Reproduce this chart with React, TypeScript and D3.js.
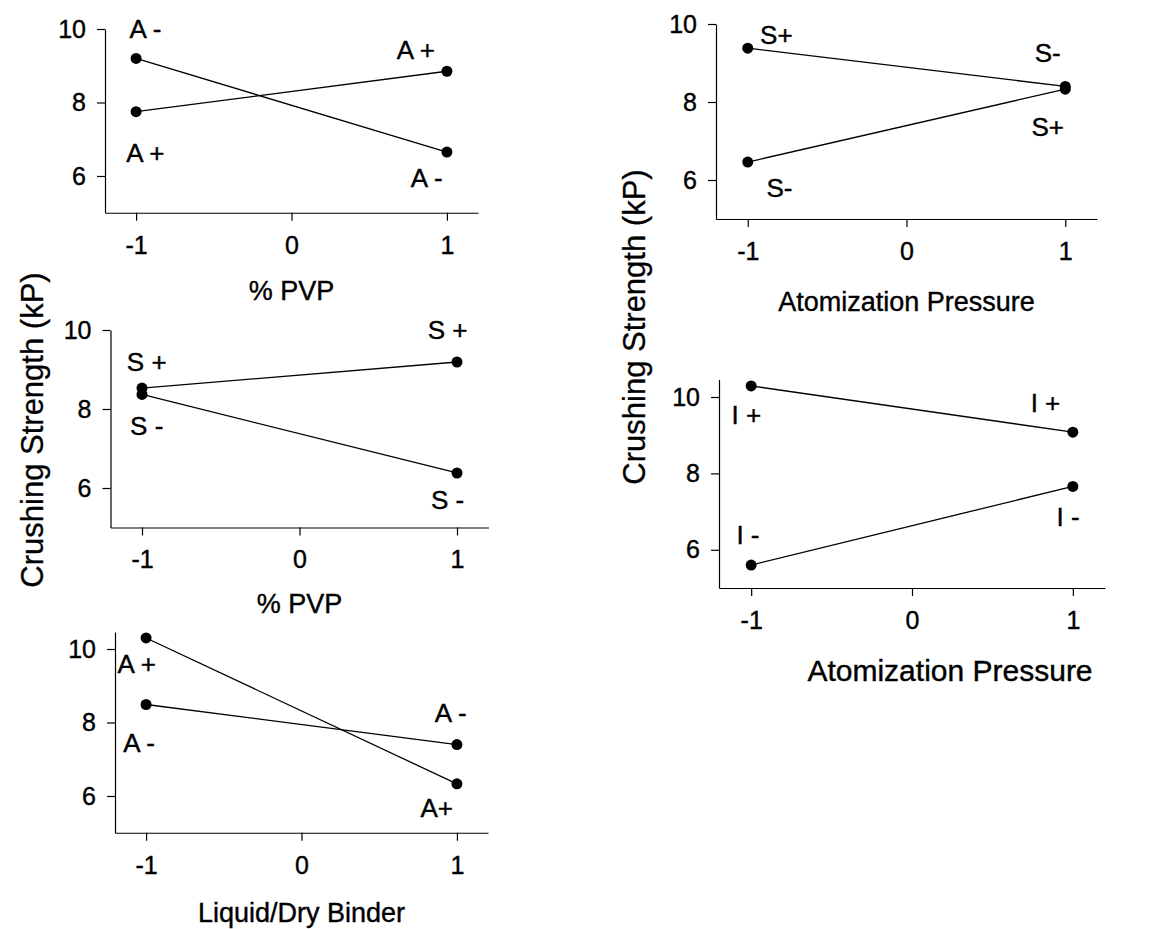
import React, { useEffect, useRef } from "react";
import * as d3 from "d3";

const width = 1166;
const height = 929;
const font = "'Liberation Sans', Arial, Helvetica, sans-serif";

const levels = [-1, 1];
const xTicks = [-1, 0, 1];
const yTicks = [6, 8, 10];

// % PVP, by A level
const pvpAMinus = [9.2, 6.65];
const pvpAPlus = [7.75, 8.85];
const pvpALabels: [string, number, number][] = [
  ["A -", -0.94, 10.0],
  ["A +", -0.94, 6.63],
  ["A +", 0.8, 9.43],
  ["A -", 0.87, 5.95],
];

// % PVP, by S level
const pvpSPlus = [8.53, 9.19];
const pvpSMinus = [8.37, 6.38];
const pvpSLabels: [string, number, number][] = [
  ["S +", -0.97, 9.19],
  ["S -", -0.97, 7.57],
  ["S +", 0.94, 10.0],
  ["S -", 0.94, 5.7],
];

// Liquid/Dry Binder, by A level
const binderAPlus = [10.3, 6.33];
const binderAMinus = [8.49, 7.4];
const binderLabels: [string, number, number][] = [
  ["A +", -1.06, 9.59],
  ["A -", -1.045, 7.43],
  ["A -", 0.96, 8.27],
  ["A+", 0.87, 5.67],
];

// Atomization Pressure, by S level
const atomSPlus = [9.38, 8.4];
const atomSMinus = [6.46, 8.33];
const atomSLabels: [string, number, number][] = [
  ["S+", -0.82, 9.72],
  ["S-", 0.89, 9.26],
  ["S+", 0.89, 7.36],
  ["S-", -0.8, 5.79],
];

// Atomization Pressure, by I level
const atomIPlus = [10.29, 9.08];
const atomIMinus = [5.6, 7.66];
const atomILabels: [string, number, number][] = [
  ["I +", -1.03, 9.53],
  ["I +", 0.83, 9.84],
  ["I -", -1.02, 6.39],
  ["I -", 0.97, 6.85],
];

const panels = [
  { xRange: [105, 478], yRange: [212.75, 29], yMax: 10, title: "% PVP", titleDx: 0, titleDy: 78, titleSize: 27, series: [pvpAMinus, pvpAPlus], labels: pvpALabels },
  { xRange: [110.5, 488.5], yRange: [527.5, 330], yMax: 10, title: "% PVP", titleDx: 0, titleDy: 76, titleSize: 27, series: [pvpSPlus, pvpSMinus], labels: pvpSLabels },
  { xRange: [115, 488], yRange: [832.75, 649], yMax: 10.46, title: "Liquid/Dry Binder", titleDx: 0, titleDy: 80, titleSize: 27, series: [binderAPlus, binderAMinus], labels: binderLabels },
  { xRange: [716, 1097], yRange: [219, 24], yMax: 10, title: "Atomization Pressure", titleDx: 0, titleDy: 83, titleSize: 27, series: [atomSPlus, atomSMinus], labels: atomSLabels },
  { xRange: [719, 1105], yRange: [588, 397], yMax: 10.46, title: "Atomization Pressure", titleDx: 38, titleDy: 82, titleSize: 30, series: [atomIPlus, atomIMinus], labels: atomILabels },
];

export default function App() {
  const svgRef = useRef<SVGSVGElement>(null);

  useEffect(() => {
    const svg = d3.select(svgRef.current);
    svg.selectAll("*").remove();

    panels.forEach((p) => {
      const x = d3.scaleLinear().domain([-1.2, 1.2]).range(p.xRange);
      // y scale set by the 5..10 range, axis line runs a bit higher on two panels
      const y = d3.scaleLinear().domain([5, 10]).range(p.yRange);
      const yAxisScale = d3.scaleLinear().domain([5, p.yMax]).range([p.yRange[0], y(p.yMax)]);
      const g = svg.append("g");

      const xAxis = g
        .append("g")
        .attr("transform", `translate(0, ${y(5)})`)
        .call(d3.axisBottom(x).tickValues(xTicks).tickFormat((d) => String(d)).tickSize(8).tickSizeOuter(0).tickPadding(15));
      const yAxis = g
        .append("g")
        .attr("transform", `translate(${x(-1.2)}, 0)`)
        .call(d3.axisLeft(yAxisScale).tickValues(yTicks).tickFormat((d) => String(d)).tickSize(8).tickSizeOuter(0).tickPadding(11));

      [xAxis, yAxis].forEach((a) => {
        a.selectAll("path, line").attr("stroke", "#000").attr("stroke-width", 1.2);
        a.selectAll("text")
          .attr("font-family", font)
          .attr("font-size", 25)
          .attr("fill", "#000")
          .attr("stroke", "#000")
          .attr("stroke-width", 0.4);
      });

      g.append("text")
        .attr("x", x(0) + p.titleDx)
        .attr("y", y(5) + p.titleDy)
        .attr("text-anchor", "middle")
        .attr("dominant-baseline", "central")
        .attr("font-family", font)
        .attr("font-size", p.titleSize)
        .attr("stroke", "#000")
        .attr("stroke-width", 0.4)
        .text(p.title);

      const line = d3
        .line<number>()
        .x((d, i) => x(levels[i]))
        .y((d) => y(d));

      p.series.forEach((s) => {
        g.append("path").attr("d", line(s)).attr("fill", "none").attr("stroke", "#000").attr("stroke-width", 1.3);
        g.selectAll(null)
          .data(s)
          .enter()
          .append("circle")
          .attr("cx", (d, i) => x(levels[i]))
          .attr("cy", (d) => y(d))
          .attr("r", 5.5)
          .attr("fill", "#000");
      });

      g.selectAll(null)
        .data(p.labels)
        .enter()
        .append("text")
        .attr("x", (d) => x(d[1]))
        .attr("y", (d) => y(d[2]))
        .attr("text-anchor", "middle")
        .attr("dominant-baseline", "central")
        .attr("font-family", font)
        .attr("font-size", 26)
        .attr("stroke", "#000")
        .attr("stroke-width", 0.4)
        .text((d) => d[0]);
    });

    // shared y titles
    [
      [32, 430],
      [634, 327],
    ].forEach(([cx, cy]) => {
      svg
        .append("text")
        .attr("transform", `translate(${cx}, ${cy}) rotate(-90)`)
        .attr("text-anchor", "middle")
        .attr("dominant-baseline", "central")
        .attr("font-family", font)
        .attr("font-size", 31)
        .attr("stroke", "#000")
        .attr("stroke-width", 0.3)
        .text("Crushing Strength (kP)");
    });
  }, []);

  return (
    <svg
      ref={svgRef}
      width={width}
      height={height}
      style={{ position: "absolute", left: 0, top: 0, background: "#fff" }}
    />
  );
}
